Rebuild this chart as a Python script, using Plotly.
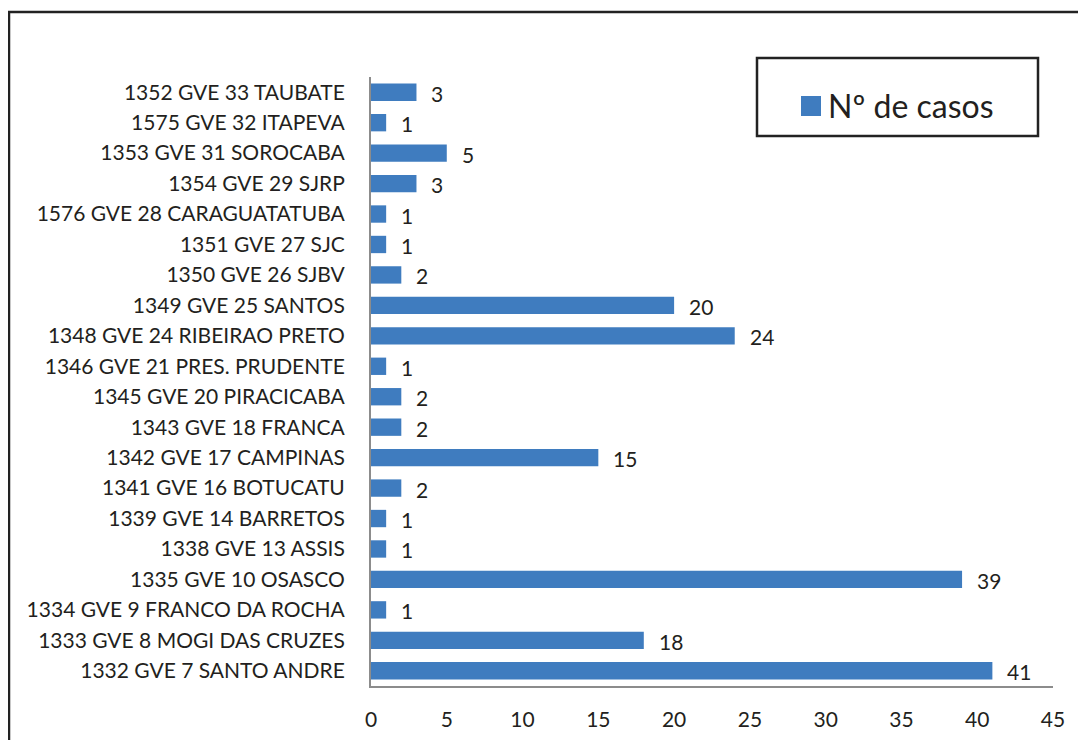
import plotly.graph_objects as go

categories = [
    "1332 GVE 7 SANTO ANDRE",
    "1333 GVE 8 MOGI DAS CRUZES",
    "1334 GVE 9 FRANCO DA ROCHA",
    "1335 GVE 10 OSASCO",
    "1338 GVE 13 ASSIS",
    "1339 GVE 14 BARRETOS",
    "1341 GVE 16 BOTUCATU",
    "1342 GVE 17 CAMPINAS",
    "1343 GVE 18 FRANCA",
    "1345 GVE 20 PIRACICABA",
    "1346 GVE 21 PRES. PRUDENTE",
    "1348 GVE 24 RIBEIRAO PRETO",
    "1349 GVE 25 SANTOS",
    "1350 GVE 26 SJBV",
    "1351 GVE 27 SJC",
    "1576 GVE 28 CARAGUATATUBA",
    "1354 GVE 29 SJRP",
    "1353 GVE 31 SOROCABA",
    "1575 GVE 32 ITAPEVA",
    "1352 GVE 33 TAUBATE",
]
casos = [41, 18, 1, 39, 1, 1, 2, 15, 2, 2, 1, 24, 20, 2, 1, 1, 3, 5, 1, 3]
x_ticks = [0, 5, 10, 15, 20, 25, 30, 35, 40, 45]
series_name = "Nº de casos"

BAR = "#3F7CBF"
TXT = "#231F20"
FONT = "Lato"
FS = 21

OFF = 8  # page body margin
W, H = 1086, 740
L, R, T, B = 371 - OFF, 1053 - OFF, 77 - OFF, 686 - OFF

fig = go.Figure()
fig.add_trace(go.Bar(
    y=categories, x=casos, orientation="h",
    marker=dict(color=BAR, line=dict(width=0)),
    name=series_name, showlegend=False,
))

for c, v in zip(categories, casos):
    fig.add_annotation(x=v, y=c, text=str(v), showarrow=False,
                       xanchor="left", yanchor="middle", xshift=13, yshift=-1,
                       font=dict(family=FONT, size=FS, color=TXT))

pw, ph = R - L, B - T
def px(x):
    return (x - OFF - L) / pw
def py(y):
    return (B - (y - OFF)) / ph

# outer frame
fig.add_shape(type="rect", xref="paper", yref="paper",
              x0=px(9), x1=px(1110), y0=py(12), y1=py(770),
              line=dict(color="#222222", width=2.5), layer="below")
# legend box
fig.add_shape(type="rect", xref="paper", yref="paper",
              x0=px(757), x1=px(1038), y0=py(58), y1=py(136),
              line=dict(color="#222222", width=2.5), fillcolor="white")
fig.add_shape(type="rect", xref="paper", yref="paper",
              x0=px(801), x1=px(821), y0=py(96), y1=py(116),
              line=dict(width=0), fillcolor=BAR)
fig.add_annotation(xref="paper", yref="paper", x=px(826), y=py(105),
                   text=series_name, showarrow=False, xanchor="left", yanchor="middle",
                   font=dict(family=FONT, size=32, color=TXT))

fig.update_layout(
    width=W, height=H,
    margin=dict(l=L, r=W - R, t=T, b=H - B, autoexpand=False),
    paper_bgcolor="white", plot_bgcolor="white",
    bargap=0.43,
    font=dict(family=FONT, size=FS, color=TXT),
)
fig.update_xaxes(range=[0, 45], tickvals=x_ticks, showgrid=False, zeroline=False,
                 showline=True, linecolor="#8C8C8C", linewidth=2,
                 ticks="", ticklabelstandoff=14,
                 tickfont=dict(family=FONT, size=FS, color=TXT), fixedrange=True)
fig.update_yaxes(type="category", range=[-0.5, 19.5], showgrid=False, zeroline=False,
                 showline=True, linecolor="#8C8C8C", linewidth=2,
                 ticks="", ticklabelstandoff=20,
                 tickfont=dict(family=FONT, size=FS, color=TXT), fixedrange=True)

fig.write_html("out.html", config={"displayModeBar": False})
